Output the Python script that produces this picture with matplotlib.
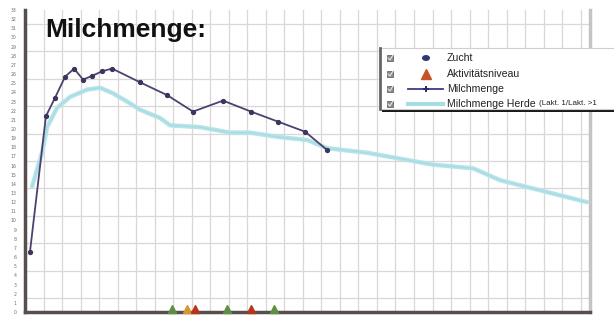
import matplotlib
matplotlib.use("Agg")
import matplotlib.pyplot as plt
from matplotlib.patches import Rectangle, Ellipse
from matplotlib.lines import Line2D
from matplotlib.ticker import MultipleLocator

# ---- data (days in milk, kg milk) ----
milk_days = [2.7, 11.3, 16.2, 21.6, 26.5, 31.3, 36.2, 41.6, 47.0, 62.1, 76.7,
             90.7, 106.9, 122.0, 136.6, 151.2, 163.1]
milk_kg = [6.6, 21.4, 23.4, 25.7, 26.6, 25.4, 25.8, 26.3, 26.6, 25.1, 23.7,
           21.9, 23.1, 21.9, 20.8, 19.7, 17.7]

herd_days = [3.8, 9.2, 11.9, 17.3, 24.3, 33.5, 40.5, 47.5, 56.7, 62.1, 72.9,
             78.3, 94.5, 110.7, 121.5, 137.7, 152.3, 163.1, 184.7, 220.3,
             241.9, 256.5, 303.5]
herd_kg = [13.7, 17.4, 20.2, 22.3, 23.5, 24.3, 24.5, 23.9, 22.8, 22.1, 21.2,
           20.4, 20.2, 19.6, 19.6, 19.1, 18.8, 17.9, 17.4, 16.1, 15.7, 14.4, 12.0]

activity_days = [79.4, 87.5, 91.8, 109.1, 122.0, 134.4]
activity_level = ["green", "orange", "red", "green", "red", "green"]
level_colors = {"green": "#5e8f45", "orange": "#d8962e", "red": "#b5361c"}

legend_labels = ["Zucht", "Aktivitätsniveau", "Milchmenge", "Milchmenge Herde"]
legend_suffix = "(Lakt. 1/Lakt. >1"
title = "Milchmenge:"

W, H = 614, 318
fig = plt.figure(figsize=(W / 100, H / 100), dpi=100)
fig.patch.set_facecolor("white")

L, R, T, B = 25, 590, 10, 312
ax = fig.add_axes([L / W, 1 - B / H, (R - L) / W, (B - T) / H])
ax.set_xlim(0, 305)
ax.set_ylim(0, 33)

ax.xaxis.set_major_locator(MultipleLocator(10))
ax.yaxis.set_major_locator(MultipleLocator(1))
ax.yaxis.set_minor_locator(MultipleLocator(1.5))
ax.grid(True, which="major", axis="x", color="#ddd6d6", lw=0.9)
ax.grid(True, which="minor", axis="y", color="#ddd6d6", lw=0.9)
ax.set_axisbelow(True)
ax.tick_params(axis="x", which="both", length=0, labelbottom=False)
ax.tick_params(axis="y", which="both", length=0, labelsize=3.3, labelcolor="#6e6e6e", pad=6)
ax.set_yticklabels([str(int(v)) for v in ax.get_yticks()])

ax.spines["top"].set_visible(False)
ax.spines["left"].set_color("#574e4e")
ax.spines["left"].set_linewidth(2.5)
ax.spines["bottom"].set_color("#574e4e")
ax.spines["bottom"].set_linewidth(2.5)
ax.spines["right"].set_color("#c4c4c4")
ax.spines["right"].set_linewidth(2.5)

# herd line
ax.plot(herd_days, herd_kg, color="#b6e4e9", lw=3.2, solid_capstyle="round", zorder=3)
ax.plot(herd_days, herd_kg, color="#93d2d8", lw=0.8, alpha=0.5, zorder=3)
# cow milk line
ax.plot(milk_days, milk_kg, color="#4d416f", lw=1.3, marker="o", markersize=2.8,
        markerfacecolor="#3e3460", markeredgecolor="#3e3460", zorder=4)

# activity markers
for d, lev in zip(activity_days, activity_level):
    ax.plot([d], [0.35], marker="^", markersize=6, color=level_colors[lev],
            markeredgecolor=level_colors[lev], clip_on=False, zorder=5)

# title
fig.text(45 / W, 1 - 37 / H, title, fontsize=19, fontweight="bold",
         family="Liberation Sans", color="#111111", va="baseline", ha="left")

# legend box (drawn in figure pixels)
def fx(x):
    return x / W

def fy(y):
    return 1 - y / H

lx0, ly0, ly1 = 380, 48, 109
fig.add_artist(Rectangle((fx(lx0 + 2), fy(ly1 + 3)), fx(W - lx0), (ly1 - ly0) / H,
                         transform=fig.transFigure, facecolor="#1a1a1a", edgecolor="none", zorder=9))
fig.add_artist(Rectangle((fx(lx0), fy(ly1)), fx(W - lx0 + 5), (ly1 - ly0) / H,
                         transform=fig.transFigure, facecolor="white", edgecolor="#cfcfcf",
                         lw=0.8, zorder=10))
fig.add_artist(Line2D([fx(lx0), fx(lx0)], [fy(ly0), fy(ly1)], transform=fig.transFigure,
                      color="#666666", lw=2.0, zorder=11))

rows = [58, 74, 89, 104]
for y in rows:
    fig.add_artist(Rectangle((fx(387), fy(y + 3)), 6 / W, 6 / H, transform=fig.transFigure,
                             facecolor="#8a8a8a", edgecolor="#555555", lw=0.5, zorder=11))
    fig.add_artist(Line2D([fx(388), fx(390), fx(393)], [fy(y), fy(y + 2), fy(y - 3)],
                          transform=fig.transFigure, color="#f0f0f0", lw=0.7, zorder=12))

# Zucht symbol
fig.add_artist(Ellipse((fx(426), fy(rows[0])), 8 / W, 6 / H, transform=fig.transFigure,
                       facecolor="#2e3a7a", edgecolor="none", zorder=11))
# Aktivitaet symbol
fig.add_artist(Line2D([fx(426)], [fy(rows[1])], transform=fig.transFigure, marker="^",
                      markersize=7, color="#c4552a", lw=0, zorder=11))
# Milchmenge symbol
fig.add_artist(Line2D([fx(408), fx(443)], [fy(rows[2]), fy(rows[2])], transform=fig.transFigure,
                      color="#3e3b82", lw=1.3, marker="", zorder=11))
fig.add_artist(Line2D([fx(426)], [fy(rows[2])], transform=fig.transFigure, marker="+",
                      markersize=5, color="#2d2a6a", mew=1.4, lw=0, zorder=12))
# Herde symbol
fig.add_artist(Line2D([fx(408), fx(443)], [fy(rows[3]), fy(rows[3])], transform=fig.transFigure,
                      color="#a6dde2", lw=3, zorder=11))

texts = []
for y, lab in zip(rows, legend_labels):
    t = fig.text(fx(447), fy(y), lab, fontsize=7.6, family="Liberation Sans",
                 color="#222222", va="center", ha="left", zorder=13)
    texts.append(t)

fig.canvas.draw()
bb = texts[-1].get_window_extent()
fig.text(fx(bb.x1 + 3), fy(rows[3]), legend_suffix, fontsize=5.8, family="Liberation Sans",
         color="#222222", va="center", ha="left", zorder=13)

fig.savefig("out.png", dpi=100, facecolor="white")
